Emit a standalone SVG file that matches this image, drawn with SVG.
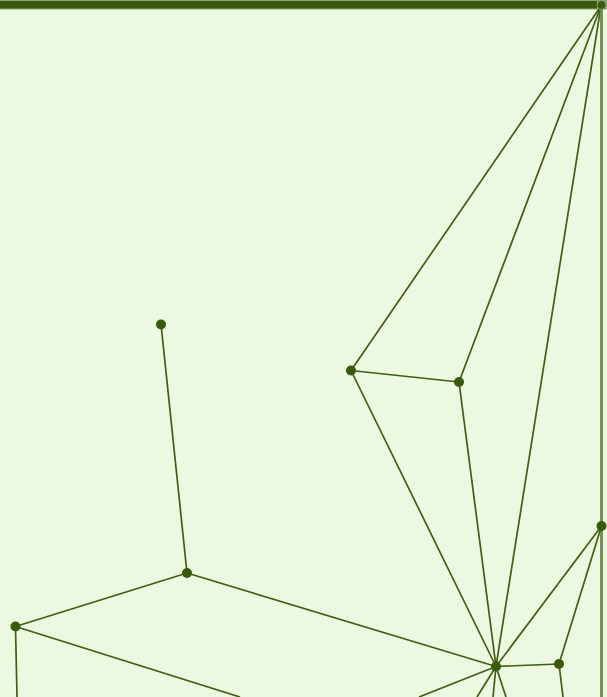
<svg xmlns="http://www.w3.org/2000/svg" width="607" height="697" viewBox="0 0 607 697">
<style>
.e{stroke:#3f5f14;stroke-width:1.7;fill:none}
.n{fill:#395a0c}
</style>
<rect width="607" height="697" fill="#edf8e0"/>
<rect x="0" y="0" width="607" height="9.500" fill="#8fa672"/>
<rect x="0" y="1" width="597" height="7.500" fill="#395a0c"/>
<g id="connectors">
<path class="e" d="M601 6L351 370.500"/>
<path class="e" d="M601 6L459 382"/>
<path class="e" d="M601 6L496 666.500"/>
<path d="M601.500 5V697" fill="none" stroke="#6f8c4d" stroke-width="2.800"/>
<path class="e" d="M351 370.500L459 382"/>
<path class="e" d="M351 370.500L496 666.500"/>
<path class="e" d="M459 382L496 666.500"/>
<path class="e" d="M601.500 526L496 666.500"/>
<path class="e" d="M601.500 526L559 664"/>
<path class="e" d="M496 666.500L559 664"/>
<path class="e" d="M559 664L563 697"/>
<path class="e" d="M187 573L496 666.500"/>
<path class="e" d="M161 324L187 573"/>
<path class="e" d="M15.500 626.500L187 573"/>
<path class="e" d="M15.500 626.500L17 697"/>
<path class="e" d="M15.500 626.500L240 697"/>
<path class="e" d="M496 666.500L419 697"/>
<path class="e" d="M496 666.500L477 697"/>
<path class="e" d="M496 666.500L493 697"/>
<path class="e" d="M496 666.500L506 697"/>
</g>
<g id="n1"><circle class="n" cx="161" cy="324.500" r="5"/></g>
<g id="n2"><circle class="n" cx="351" cy="370.500" r="5"/></g>
<g id="n3"><circle class="n" cx="459" cy="382" r="5"/></g>
<g id="n4"><circle class="n" cx="187" cy="573" r="5"/></g>
<g id="n5"><circle class="n" cx="15.500" cy="626.500" r="5"/></g>
<g id="n6"><circle class="n" cx="496" cy="666.500" r="5"/></g>
<g id="n7"><circle class="n" cx="559" cy="664" r="5"/></g>
<g id="n8"><circle class="n" cx="601.500" cy="526" r="5"/></g>
<g id="n9"><circle class="n" cx="601.500" cy="5" r="4.500" stroke="#8fa672" stroke-width="1"/></g>
</svg>
